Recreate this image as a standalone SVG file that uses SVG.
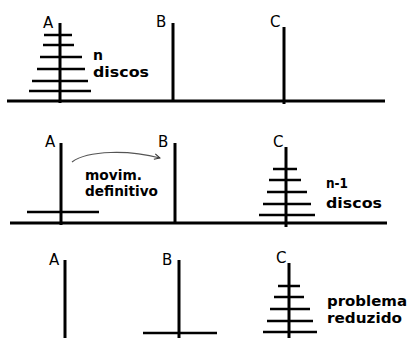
<svg xmlns="http://www.w3.org/2000/svg" width="409" height="338" viewBox="0 0 409 338">
<style>
.base{stroke:#000;stroke-width:3;fill:none}
.peg{stroke:#000;stroke-width:3;fill:none}
.disc{stroke:#000;stroke-width:2.5;fill:none}
.lbl{font-family:"DejaVu Sans","Liberation Sans",sans-serif;font-size:15px;fill:#000}
.txt{font-family:"DejaVu Sans","Liberation Sans",sans-serif;font-size:14px;font-weight:bold;fill:#000}
.arc{stroke:#555;stroke-width:1.2;fill:none}
</style>
<defs>
<marker id="ah" viewBox="0 0 10 10" refX="9" refY="5" markerWidth="7" markerHeight="7" orient="auto" markerUnits="userSpaceOnUse">
<path d="M1,1 L9,5 L1,9" fill="none" stroke="#333" stroke-width="1.6"/>
</marker>
</defs>
<rect width="409" height="338" fill="#fff"/>

<!-- Panel 1 -->
<g id="base1"><line class="base" x1="7" y1="101" x2="385" y2="101"/></g>
<g id="p1A">
<line class="peg" x1="60" y1="23" x2="60" y2="103"/>
<line class="disc" x1="44" y1="35" x2="72" y2="35"/>
<line class="disc" x1="43" y1="45" x2="74" y2="45"/>
<line class="disc" x1="40" y1="57" x2="82" y2="57"/>
<line class="disc" x1="37" y1="69" x2="85" y2="69"/>
<line class="disc" x1="32" y1="81" x2="88" y2="81"/>
<line class="disc" x1="29" y1="91" x2="91" y2="91"/>
<text class="lbl" x="43" y="28">A</text>
<text class="txt" x="93" y="60">n</text>
<text class="txt" x="93" y="77" textLength="56" lengthAdjust="spacingAndGlyphs">discos</text>
</g>
<g id="p1B">
<line class="peg" x1="173" y1="23" x2="173" y2="101"/>
<text class="lbl" x="156" y="27">B</text>
</g>
<g id="p1C">
<line class="peg" x1="284" y1="27" x2="284" y2="104"/>
<text class="lbl" x="270" y="27">C</text>
</g>

<!-- Panel 2 -->
<g id="base2"><line class="base" x1="10" y1="223" x2="387" y2="223"/></g>
<g id="p2A">
<line class="peg" x1="61" y1="143" x2="61" y2="225"/>
<line class="disc" x1="27" y1="212" x2="99" y2="212"/>
<text class="lbl" x="45" y="147">A</text>
</g>
<g id="p2B">
<line class="peg" x1="175" y1="143" x2="175" y2="223"/>
<text class="lbl" x="158" y="147">B</text>
</g>
<g id="p2C">
<line class="peg" x1="286" y1="147" x2="286" y2="227"/>
<line class="disc" x1="273" y1="169" x2="297" y2="169"/>
<line class="disc" x1="269" y1="180" x2="301" y2="180"/>
<line class="disc" x1="267" y1="192" x2="307" y2="192"/>
<line class="disc" x1="263" y1="204" x2="311" y2="204"/>
<line class="disc" x1="259" y1="215" x2="315" y2="215"/>
<text class="lbl" x="273" y="147">C</text>
<text class="txt" x="326" y="188" textLength="22" lengthAdjust="spacingAndGlyphs">n-1</text>
<text class="txt" x="326" y="208" textLength="56" lengthAdjust="spacingAndGlyphs">discos</text>
</g>
<g id="note2">
<text class="txt" x="85" y="180" textLength="57" lengthAdjust="spacingAndGlyphs">movim.</text>
<text class="txt" x="85" y="196" textLength="73" lengthAdjust="spacingAndGlyphs">definitivo</text>
</g>
<g id="connectors">
<path class="arc" d="M72,162 C88,150 130,150 160,158" marker-end="url(#ah)"/>
</g>

<!-- Panel 3 -->
<g id="p3A">
<line class="peg" x1="65" y1="260" x2="65" y2="338"/>
<text class="lbl" x="49" y="265">A</text>
</g>
<g id="p3B">
<line class="peg" x1="179" y1="260" x2="179" y2="338"/>
<line class="disc" x1="143" y1="333" x2="217" y2="333"/>
<text class="lbl" x="162" y="265">B</text>
</g>
<g id="p3C">
<line class="peg" x1="289" y1="263" x2="289" y2="338"/>
<line class="disc" x1="278" y1="286" x2="300" y2="286"/>
<line class="disc" x1="274" y1="297" x2="304" y2="297"/>
<line class="disc" x1="270" y1="309" x2="310" y2="309"/>
<line class="disc" x1="267" y1="321" x2="313" y2="321"/>
<line class="disc" x1="263" y1="332" x2="317" y2="332"/>
<text class="lbl" x="276" y="263">C</text>
<text class="txt" x="327" y="306" textLength="80" lengthAdjust="spacingAndGlyphs">problema</text>
<text class="txt" x="327" y="323" textLength="75" lengthAdjust="spacingAndGlyphs">reduzido</text>
</g>
</svg>
